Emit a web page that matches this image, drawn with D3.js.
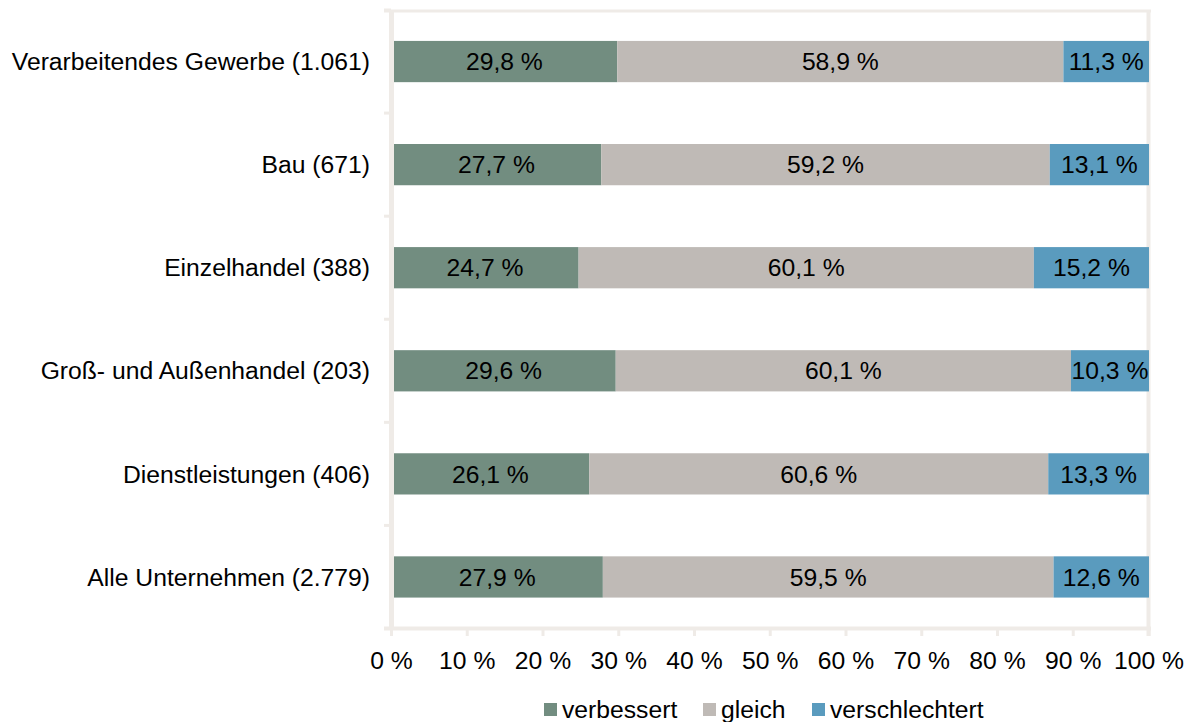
<!DOCTYPE html>
<html>
<head>
<meta charset="utf-8">
<script src="https://cdn.jsdelivr.net/npm/d3@7"></script>
<style>
  body { margin: 0; background: #fff; }
  svg text { font-family: "Liberation Sans", Arial, sans-serif; fill: #000; }
</style>
</head>
<body>
<svg width="1191" height="722"></svg>
<script>
// data
const categories = [
    "Verarbeitendes Gewerbe (1.061)",
    "Bau (671)",
    "Einzelhandel (388)",
    "Groß- und Außenhandel (203)",
    "Dienstleistungen (406)",
    "Alle Unternehmen (2.779)"
];
const verbessert = [29.8, 27.7, 24.7, 29.6, 26.1, 27.9];
const gleich = [58.9, 59.2, 60.1, 60.1, 60.6, 59.5];
const verschlechtert = [11.3, 13.1, 15.2, 10.3, 13.3, 12.6];
const seriesNames = ["verbessert", "gleich", "verschlechtert"];
const colors = ["#728d80", "#bfbab6", "#5a9bbe"];
const xTicks = [0, 10, 20, 30, 40, 50, 60, 70, 80, 90, 100];

const rows = categories.map((c, i) => ({
    cat: c, verbessert: verbessert[i], gleich: gleich[i], verschlechtert: verschlechtert[i]
}));

const svg = d3.select("svg");
const axisColor = "#efebe7";
const fontSize = "24.7px";

const x = d3.scaleLinear().domain([0, 100]).range([391.5, 1149]);
const y = d3.scaleBand().domain(categories).range([10, 628.5]).paddingInner(0.6).paddingOuter(0.3);

// frame lines (top and right)
svg.append("line")
    .attr("x1", 384).attr("x2", 1151)
    .attr("y1", 11).attr("y2", 11)
    .attr("stroke", axisColor).attr("stroke-width", 3);
svg.append("line")
    .attr("x1", 1148.5).attr("x2", 1148.5)
    .attr("y1", 10).attr("y2", 636)
    .attr("stroke", axisColor).attr("stroke-width", 4);

const stack = d3.stack().keys(seriesNames)(rows);

const layer = svg.selectAll(".layer")
    .data(stack)
    .enter().append("g")
    .attr("class", "layer")
    .attr("fill", (d, i) => colors[i]);

layer.selectAll("rect")
    .data(d => d)
    .enter().append("rect")
    .attr("x", d => x(d[0]))
    .attr("y", d => y(d.data.cat))
    .attr("width", d => x(d[1]) - x(d[0]))
    .attr("height", y.bandwidth());

layer.selectAll("text")
    .data(d => d.map(v => ({ v: v, key: d.key })))
    .enter().append("text")
    .attr("x", d => (x(d.v[0]) + x(d.v[1])) / 2)
    .attr("y", d => y(d.v.data.cat) + y.bandwidth() / 2)
    .attr("dy", "0.35em")
    .attr("text-anchor", "middle")
    .style("font-size", fontSize)
    .text(d => d.v.data[d.key].toFixed(1).replace(".", ",") + " %");

// left axis
svg.append("line")
    .attr("x1", 391.5).attr("x2", 391.5)
    .attr("y1", 10).attr("y2", 630)
    .attr("stroke", axisColor).attr("stroke-width", 5);
const bounds = d3.range(categories.length + 1).map(i => 10 + i * (618.5 / categories.length));
svg.selectAll(".ytick")
    .data(bounds)
    .enter().append("line")
    .attr("x1", 384).attr("x2", 391)
    .attr("y1", d => d).attr("y2", d => d)
    .attr("stroke", axisColor).attr("stroke-width", 3);

svg.selectAll(".ylab")
    .data(categories)
    .enter().append("text")
    .attr("x", 370)
    .attr("y", d => y(d) + y.bandwidth() / 2)
    .attr("dy", "0.35em")
    .attr("text-anchor", "end")
    .style("font-size", fontSize)
    .text(d => d);

// bottom axis
svg.append("line")
    .attr("x1", 384).attr("x2", 1151)
    .attr("y1", 628.5).attr("y2", 628.5)
    .attr("stroke", axisColor).attr("stroke-width", 4);
svg.selectAll(".xtick")
    .data(xTicks)
    .enter().append("line")
    .attr("x1", d => x(d)).attr("x2", d => x(d))
    .attr("y1", 628).attr("y2", 636)
    .attr("stroke", axisColor).attr("stroke-width", 3);
svg.selectAll(".xlab")
    .data(xTicks)
    .enter().append("text")
    .attr("x", d => x(d))
    .attr("y", 669)
    .attr("text-anchor", "middle")
    .style("font-size", fontSize)
    .text(d => d + " %");

// legend
const legendX = [544, 703, 812];
const legend = svg.selectAll(".legend")
    .data(seriesNames)
    .enter().append("g")
    .attr("transform", (d, i) => "translate(" + legendX[i] + ",703)");
legend.append("rect")
    .attr("width", 13).attr("height", 13)
    .attr("fill", (d, i) => colors[i]);
legend.append("text")
    .attr("x", 18)
    .attr("y", 6.5)
    .attr("dy", "0.35em")
    .style("font-size", fontSize)
    .text(d => d);
</script>
</body>
</html>
